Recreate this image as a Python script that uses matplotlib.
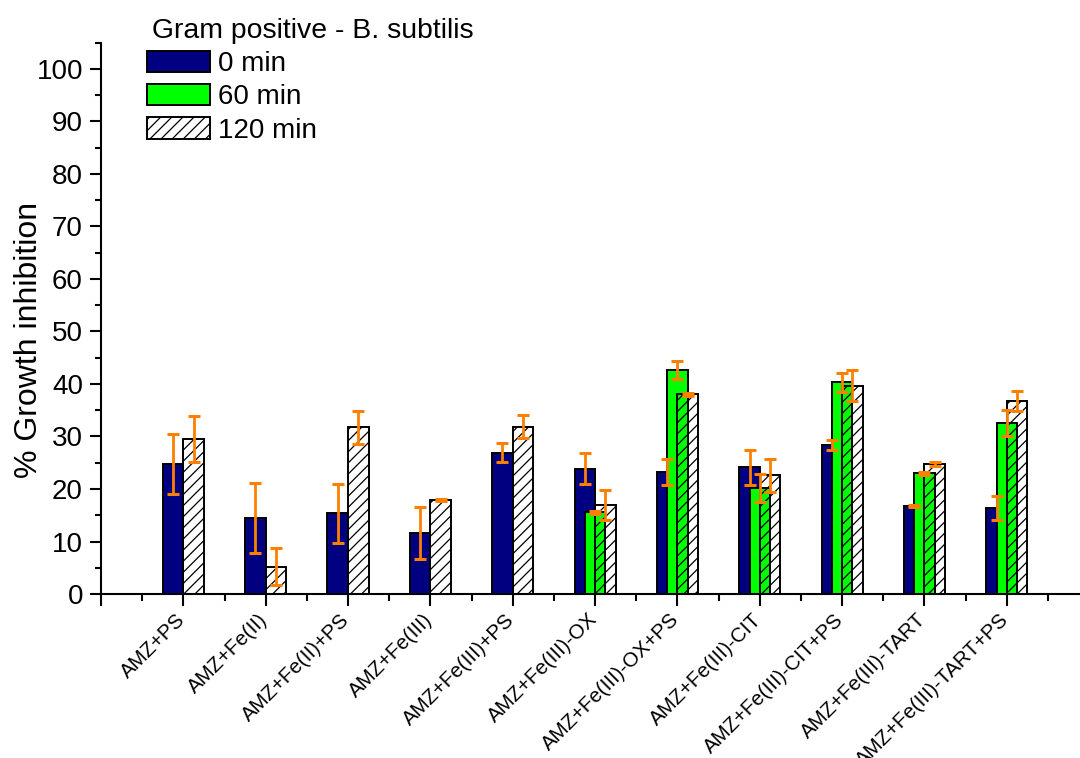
import numpy as np
import matplotlib
matplotlib.use('Agg')
import matplotlib.pyplot as plt
import matplotlib.transforms as mtransforms
from matplotlib.ticker import MultipleLocator

plt.rcParams['font.family'] = ['Liberation Sans', 'DejaVu Sans']
plt.rcParams['hatch.linewidth'] = 0.9

categories = ['AMZ+PS', 'AMZ+Fe(II)', 'AMZ+Fe(II)+PS', 'AMZ+Fe(III)',
              'AMZ+Fe(III)+PS', 'AMZ+Fe(III)-OX', 'AMZ+Fe(III)-OX+PS',
              'AMZ+Fe(III)-CIT', 'AMZ+Fe(III)-CIT+PS', 'AMZ+Fe(III)-TART',
              'AMZ+Fe(III)-TART+PS']
series_names = ['0 min', '60 min', '120 min']

t0 = [24.7, 14.5, 15.4, 11.6, 26.9, 23.9, 23.3, 24.1, 28.4, 16.8, 16.4]
t0_err = [5.7, 6.6, 5.6, 4.9, 1.8, 3.0, 2.5, 3.4, 0.9, 0.2, 2.35]
t60 = [np.nan] * 5 + [15.6, 42.7, 20.2, 40.3, 23.0, 32.5]
t60_err = [np.nan] * 5 + [0.3, 1.7, 2.6, 1.8, 0.3, 2.5]
t120 = [29.5, 5.2, 31.8, 17.9, 31.9, 17.0, 38.0, 22.6, 39.7, 24.8, 36.8]
t120_err = [4.4, 3.5, 3.15, 0.2, 2.1, 2.9, 0.3, 3.1, 3.0, 0.4, 1.85]

fig = plt.figure(figsize=(10.8, 7.58), dpi=100)
ax = fig.add_axes([101 / 1080, 1 - 594 / 758, 12 * 82.35 / 1080, 105 * 5.25 / 758])

x = np.arange(1, len(categories) + 1)
w = 0.25
offsets = [-0.125, 0, 0.125]
faces = ['#000080', '#00ff00', 'none']
hatches = [None, None, '///']
values = [t0, t60, t120]
errors = [t0_err, t60_err, t120_err]
err_color = '#ff8000'

handles = []
for vals, off, fc, h, name in zip(values, offsets, faces, hatches, series_names):
    vals = np.array(vals)
    ok = ~np.isnan(vals)
    b = ax.bar(x[ok] + off, vals[ok], width=w, color=fc, edgecolor='black',
               linewidth=1.4, hatch=h, label=name, zorder=2)
    handles.append(b)

for vals, errs, off in zip(values, errors, offsets):
    vals = np.array(vals)
    errs = np.array(errs)
    ok = ~np.isnan(vals)
    ax.errorbar(x[ok] + off, vals[ok], yerr=errs[ok], fmt='none',
                ecolor=err_color, elinewidth=2, capsize=4, capthick=2.2, zorder=5)

ax.set_xlim(0, 12)
ax.set_ylim(0, 105)
ax.set_xticks(np.arange(0, 13))
ax.set_xticklabels([])
# category labels, rotated, ending just under each tick
trans = mtransforms.blended_transform_factory(ax.transData, ax.transAxes)
trans = trans + mtransforms.ScaledTranslation(-8 / 100, -16 / 100, fig.dpi_scale_trans)
for xi, cat in zip(x, categories):
    ax.text(xi, 0, cat, transform=trans, rotation=45, ha='right', va='top',
            rotation_mode='anchor', fontsize=14.8, clip_on=False)
ax.xaxis.set_minor_locator(MultipleLocator(0.5))
ax.set_yticks(np.arange(0, 101, 10))
ax.yaxis.set_minor_locator(MultipleLocator(5))
ax.tick_params(axis='y', which='major', labelsize=20, length=8, width=1.5, pad=5)
ax.tick_params(axis='y', which='minor', length=4, width=1.5)
ax.tick_params(axis='x', which='major', length=8.5, width=1.5)
ax.tick_params(axis='x', which='minor', length=5, width=1.5)

for s in ['top', 'right']:
    ax.spines[s].set_visible(False)
for s in ['left', 'bottom']:
    ax.spines[s].set_linewidth(1.5)

ax.set_ylabel('% Growth inhibition', fontsize=23)
ax.yaxis.set_label_coords(-0.058, 0.46)

leg = fig.legend(handles=handles, labels=series_names, loc='upper left',
                 bbox_to_anchor=(147 / 1080, 1 - 18 / 758), frameon=False,
                 fontsize=20, title='Gram positive - B. subtilis', title_fontsize=20.4,
                 alignment='left', borderpad=0, borderaxespad=0,
                 handlelength=2.25, handleheight=0.8, handletextpad=0.3,
                 labelspacing=0.25)
leg.get_title().set_position((5, 0))

fig.savefig('out.png', dpi=100)
